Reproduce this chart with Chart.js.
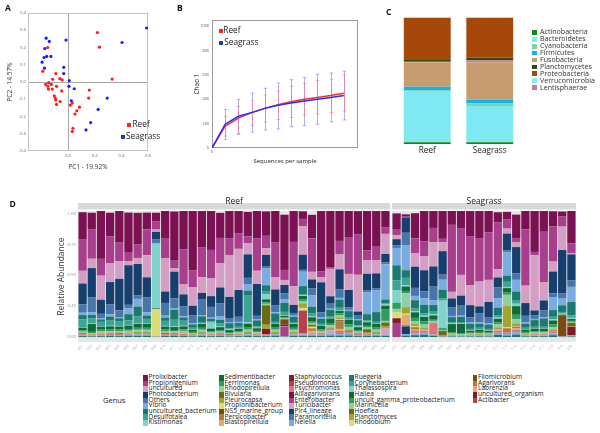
<!DOCTYPE html>
<html>
<head>
<meta charset="utf-8">
<script src="https://cdn.jsdelivr.net/npm/chart.js@4.4.1/dist/chart.umd.min.js"></script>
<style>
  body { margin: 0; width: 600px; height: 433px; overflow: hidden; background: #fff; position: relative;
         font-family: "Open Sans", sans-serif; color: #222; }
  canvas { position: absolute; }
  .t { position: absolute; white-space: nowrap; line-height: 1; }
  .sw { position: absolute; }
</style>
</head>
<body>
<script>
// ---- A: PCoA ------------------------------------------------------------
const reefPc1 = [.221,.236,.331,-.152,-.189,-.091,-.061,-.044,-.115,-.167,-.145,-.150,-.125,-.147,-.118,-.086,-.103,-.096,-.091,-.086,-.059,-.047,.160,.155,.017,.032,.086,.066,.052,.037,.032];
const reefPc2 = [.287,.202,.017,.200,.062,.049,.019,.012,.016,-.014,-.004,-.025,-.014,-.041,-.041,-.025,-.080,-.093,-.105,-.130,-.113,-.052,-.047,-.093,-.134,-.122,-.146,-.167,-.186,-.268,-.287];
const seagrassPc1 = [-.164,-.140,-.015,-.174,-.128,-.160,-.180,-.194,-.177,-.032,-.032,.010,.007,.047,.025,.294,.226,.170,.135,.405,.589];
const seagrassPc2 = [.254,.235,.243,.194,.148,.148,.142,.115,.080,.085,.049,.008,-.025,-.039,-.109,-.093,-.159,-.235,-.278,.229,.313];

// ---- B: rarefaction (Chao 1) --------------------------------------------
const depth = [0,700,1400,2100,2800,3500,4200,4900,5600,6300,7000];
const reefChao = [0,180,245,290,325,355,380,400,415,430,450];
const reefLow  = [0,98,122,182,214,234,250,270,280,290,305];
const reefHigh = [0,258,340,392,435,468,510,530,555,565,600];
const seagrassChao = [0,195,260,290,325,350,370,385,400,415,430];
const seagrassLow  = [0,70,110,130,148,156,175,185,195,215,230];
const seagrassHigh = [0,315,398,450,490,533,560,580,605,615,630];

// ---- C: phylum composition (%) ------------------------------------------
const phyla = ['Actinobacteria','Bacteroidetes','Cyanobacteria','Firmicutes','Fusobacteria','Planctomycetes','Proteobacteria','Verrucomicrobia','Lentisphaerae'];
const reefPhylum     = [1.3,40.5,0.3,2.9,19.3,1.4,33.1,0.8,0.4];
const seagrassPhylum = [1.3,28.7,1.8,3.1,29.5,2.1,31.1,0.8,1.6];
const phylumStack = ['Actinobacteria','Bacteroidetes','Cyanobacteria','Firmicutes','Fusobacteria','Lentisphaerae','Planctomycetes','Proteobacteria','Verrucomicrobia'];
const phylumColors = ['#138a13','#7fe9f2','#82d2a0','#12b2f2','#c79c6e','#2c4a12','#a6480a','#86edf5','#c47f8c'];

// ---- D: genus relative abundance (34 reef + 20 seagrass samples) --------
const reefSamples = ['R01','R02','R03','R04','R05','R06','R07','R08','R09','R10','R11','R12','R13','R14','R15','R16','R17','R18','R19','R20','R21','R22','R23','R24','R25','R26','R27','R28','R29','R30','R31','R32','R33','R34'];
const seagrassSamples = ['S01','S02','S03','S04','S05','S06','S07','S08','S09','S10','S11','S12','S13','S14','S15','S16','S17','S18','S19','S20'];
const abundanceTicks = [0, 0.25, 0.5, 0.75, 1];
const genera = ['Prolixibacter','Propionigenium','uncultured','Photobacterium','Others','Vibrio','uncultured_bacterium','Desulfotalea','Kistimonas',
  'Sedimentibacter','Ferrimonas','Rhodopirellula','Bivularia','Pleurocapsa','Propionibacterium','NS5_marine_group','Persicobacter','Blastopirellula',
  'Staphylococcus','Pseudomonas','Psychromonas','Alliagarivorans','Enterobacter','Turicibacter','Pir4_lineage','Paramoritella','Neiella',
  'Ruegeria','Corynebacterium','Thalassospira','Haliea','uncult_gamma_proteobacterium','Marinicella','Hoeflea','Planctomyces','Rhodobium',
  'Filomicrobium','Agarivorans','Labrenzia','uncultured_organism','Actibacter'];
const genusPalette = ['#7b1152','#a83f8c','#d49ec5','#163f6e','#4776aa','#79ade2','#1b7a6f','#3aa596','#7fd3ca',
  '#0e6b38','#2e9e5e','#8cd1a2','#6b6b12','#a3a334','#dcdc74','#7b4a12','#b07b43','#e2ab72','#821a2c','#b5404f','#e2717f'];

const prolixibacter = [.217,.136,.388,.190,.257,.325,.257,.136,.068,.230, .398,.312,.488,.298,.339,.203,.230,.217,.198,.225, .198,.263,.447,.257,.062,.190,.496,.504,.244,.252, .190,.328,.301,.176,
  .127,.019,.203,.244,.149,.225,.117,.144,.209,.225, .176,.081,.062,.190,.154,.339,.176,.122,.041,.271];
const propionigenium = [.257,.236,.136,.217,.149,.068,.108,.209,.068,.157, .062,.285,.136,.244,.230,.203,.136,.127,.054,.263, .100,.279,.081,.358,.060,.271,.046,.010,.108,.293, .325,.081,.108,.054,
  .049,.008,.122,.122,.114,.027,.542,.379,.396,.352, .385,.379,.073,.035,.455,.027,.407,.285,.081,.081];
const uncultured = [.103,.076,.195,.154,.144,.033,.049,.179,.019,.271, .027,.081,.149,.127,.144,.198,.339,.333,.092,.108, .054,.100,.041,.152,.230,.062,.041,.222,.122,.130, .298,.108,.108,.163,
  .033,.000,.108,.114,.198,.073,.054,.168,.163,.201, .179,.068,.041,.038,.141,.447,.149,.081,.190,.008];
const photobacterium = [.168,.238,.114,.179,.255,.320,.255,.163,.062,.092, .217,.095,.076,.049,.087,.127,.176,.217,.190,.257, .095,.130,.068,.065,.122,.073,.244,.060,.163,.141, .033,.136,.119,.068,
  .049,.122,.171,.171,.163,.190,.073,.081,.100,.054, .127,.081,.136,.211,.103,.041,.081,.176,.352,.209];
const others = [.068,.119,.035,.081,.054,.027,.027,.119,.027,.103, .081,.081,.065,.130,.087,.108,.027,.041,.054,.027, .015,.054,.049,.022,.015,.054,.041,.041,.068,.020, .027,.015,.015,.015,
  .022,.103,.065,.054,.108,.041,.068,.081,.041,.076, .046,.087,.015,.054,.054,.027,.054,.033,.041,.054];
const vibrio = [.019,.022,.010,.019,.010,.049,.062,.027,.000,.015, .010,.010,.010,.010,.010,.027,.010,.010,.049,.010, .136,.010,.027,.010,.117,.095,.010,.010,.015,.010, .010,.176,.179,.285,
  .141,.200,.035,.054,.041,.081,.010,.010,.010,.010, .010,.076,.190,.095,.010,.010,.010,.103,.054,.122];
const unculturedBacterium = [.035,.027,.020,.033,.027,.049,.081,.027,.005,.027, .081,.027,.027,.046,.020,.027,.041,.030,.041,.049, .046,.068,.073,.041,.065,.054,.041,.054,.065,.054, .041,.051,.079,.030,
  .122,.062,.068,.068,.054,.068,.041,.041,.041,.033, .035,.060,.049,.068,.033,.054,.068,.054,.054,.108];
const desulfotalea = [.062,.041,.034,.041,.035,.038,.054,.035,.000,.041, .054,.041,.010,.010,.010,.027,.010,.010,.217,.010, .027,.010,.027,.010,.010,.020,.010,.010,.020,.010, .010,.010,.010,.010,
  .081,.060,.020,.020,.020,.020,.010,.010,.010,.010, .010,.020,.041,.030,.010,.010,.010,.020,.010,.020];
const kistimonas = [.005,.005,.005,.005,.005,.005,.005,.005,.523,.005, .005,.005,.005,.005,.049,.005,.005,.005,.010,.005, .041,.005,.005,.005,.005,.010,.005,.005,.005,.005, .005,.005,.005,.010,
  .100,.010,.010,.010,.010,.225,.005,.005,.005,.005, .005,.010,.010,.020,.005,.005,.005,.010,.005,.010];
const sedimentibacter = [.021,.064,.024,.026,.024,.028,.032,.032,.005,.024, .024,.024,.018,.032,.020,.024,.015,.020,.032,.021, .024,.032,.013,.032,.029,.030,.028,.036,.020,.039, .024,.028,.032,.028,
  .000,.036,.045,.035,.029,.010,.069,.079,.015,.018, .015,.030,.036,.070,.018,.020,.020,.030,.005,.015];
const ferrimonas = [.011,.009,.012,.013,.012,.014,.016,.016,.002,.012, .012,.012,.009,.016,.010,.012,.008,.010,.016,.011, .012,.016,.006,.016,.015,.015,.014,.018,.017,.020, .012,.014,.016,.095,
  .049,.018,.025,.026,.015,.005,.008,.006,.008,.009, .008,.015,.018,.035,.009,.010,.010,.022,.002,.008];
const rhodopirellula = [.010,.009,.012,.013,.012,.014,.016,.016,.002,.012, .012,.012,.009,.016,.010,.012,.008,.010,.016,.010, .012,.016,.006,.016,.015,.015,.014,.018,.017,.020, .012,.014,.016,.014,
  .027,.113,.025,.026,.015,.005,.008,.006,.008,.009, .008,.025,.091,.035,.009,.010,.010,.022,.002,.008];
const bivularia = [0,0,0,0,0,0,0,0,0,0, 0,0,0,0,0,0,0,0,0,0, .157,0,0,0,0,.010,0,0,0,0, 0,.027,0,.027,
  0,0,0,0,0,.038,0,0,0,0, 0,0,0,0,0,0,0,0,0,.027];
const pleurocapsa = [.007,.006,.008,.009,.008,.009,.011,.011,.002,.008, .008,.008,.006,.011,.007,.008,.005,.007,.011,.007, .035,.011,.004,.011,.037,.010,.009,.012,.012,.013, .008,.009,.011,.009,
  .000,.053,.015,.017,.010,.003,.005,.004,.005,.006, .005,.017,.170,.020,.006,.007,.007,.015,.002,.005];
const propionibacterium = [0,0,0,0,0,0,0,0,.217,0, 0,0,0,0,0,0,0,0,0,0, 0,0,0,0,.022,.010,0,0,.010,0, 0,0,0,0,
  .049,.010,.010,0,0,0,0,0,0,0, 0,0,.010,.005,0,0,0,0,0,0];
const ns5MarineGroup = [0,0,0,0,0,0,0,0,0,0, 0,0,0,0,0,0,0,0,0,0, 0,0,.041,0,0,0,0,0,.010,0, 0,0,0,0,
  0,0,0,0,0,0,0,0,0,0, 0,0,0,0,0,0,0,0,.171,0];
const persicobacter = [0,0,0,0,0,0,0,0,0,0, 0,0,0,0,0,0,0,0,0,0, 0,0,0,0,0,.020,0,0,.060,.010, 0,0,0,0,
  0,0,.020,0,0,0,0,0,0,0, 0,0,.035,.015,0,0,0,0,0,0];
const blastopirellula = [0,0,.005,0,0,0,0,0,0,0, 0,.005,0,0,0,0,0,0,0,0, 0,0,0,0,0,.020,0,0,.020,0, 0,0,0,0,
  0,.081,.010,.008,0,0,0,0,0,0, 0,.010,0,.010,0,0,0,0,0,0];
const staphylococcus = [.005,0,0,0,.005,0,0,0,0,.005, 0,0,0,0,0,0,.005,0,0,0, .041,0,.014,0,0,0,0,0,0,0, 0,0,0,0,
  .038,0,.005,0,0,0,0,0,0,0, 0,0,0,0,0,0,0,0,0,.068];
const pseudomonas = [0,0,0,0,0,0,0,0,0,0, 0,0,0,0,0,0,0,0,0,0, 0,0,0,0,.184,0,0,0,.010,0, 0,0,0,0,
  0,0,0,0,0,0,0,0,0,0, 0,0,0,0,0,0,0,0,0,0];
const psychromonas = [.007,.006,.008,.009,.008,.009,.011,.011,.002,.008, .008,.008,.006,.011,.007,.008,.005,.007,.011,.007, .008,.011,.004,.011,.010,.010,.009,.012,.012,.013, .008,.009,.011,.009,
  .000,.012,.015,.017,.086,.003,.005,.004,.005,.006, .005,.017,.012,.020,.006,.007,.007,.015,.002,.005];
const enterobacter = [0,0,0,0,0,0,0,0,0,0, 0,0,0,0,0,0,0,0,0,0, 0,0,.076,0,0,0,0,0,0,0, 0,0,0,0,
  .114,0,0,0,0,0,0,0,0,0, 0,0,0,0,0,0,0,0,0,0];
const turicibacter = [0,0,0,0,0,0,0,0,0,0, 0,0,0,0,0,0,0,0,0,0, 0,0,0,0,0,0,0,.030,0,0, 0,0,0,.054,
  0,0,0,0,0,0,0,0,0,0, 0,0,0,0,0,0,0,0,0,0];
const pir4Lineage = [0,0,0,0,0,0,0,0,0,0, 0,0,0,0,0,0,0,0,0,0, 0,0,0,0,0,0,0,0,0,0, 0,0,0,0,
  0,.062,0,0,0,0,0,0,0,0, 0,0,0,0,0,0,0,0,0,0];
const neiella = [.007,.006,.008,.008,.008,.009,.011,.010,.002,.008, .008,.009,.006,.011,.007,.008,.005,.007,.011,.007, .008,.011,.004,.011,.010,.010,.009,.012,.012,.013, .008,.009,.011,.009,
  .000,.012,.015,.017,.010,.003,.005,.004,.005,.006, .005,.017,.012,.020,.006,.007,.007,.015,.002,.005];
const ruegeria = [.008,.006,.007,.009,.008,.010,.010,.011,.002,.008, .009,.008,.006,.010,.007,.008,.005,.007,.011,.008, .008,.011,.004,.010,.010,.010,.009,.012,.012,.013, .008,.009,.011,.009,
  .000,.012,.015,.017,.010,.003,.005,.004,.005,.006, .005,.017,.012,.020,.006,.007,.007,.015,.002,.005];

const genusSeries = {
  Prolixibacter: prolixibacter, Propionigenium: propionigenium, uncultured: uncultured, Photobacterium: photobacterium,
  Others: others, Vibrio: vibrio, uncultured_bacterium: unculturedBacterium, Desulfotalea: desulfotalea, Kistimonas: kistimonas,
  Sedimentibacter: sedimentibacter, Ferrimonas: ferrimonas, Rhodopirellula: rhodopirellula, Bivularia: bivularia,
  Pleurocapsa: pleurocapsa, Propionibacterium: propionibacterium, NS5_marine_group: ns5MarineGroup, Persicobacter: persicobacter,
  Blastopirellula: blastopirellula, Staphylococcus: staphylococcus, Pseudomonas: pseudomonas, Psychromonas: psychromonas,
  Enterobacter: enterobacter, Turicibacter: turicibacter, Pir4_lineage: pir4Lineage, Neiella: neiella, Ruegeria: ruegeria
};

// ---- setup --------------------------------------------------------------
Chart.defaults.font.family = '"Open Sans", sans-serif';
Chart.defaults.color = '#555';
Chart.defaults.animation = false;
Chart.defaults.responsive = false;
Chart.defaults.plugins.legend.display = false;
Chart.defaults.plugins.tooltip.enabled = false;

function mk(left, top, w, h) {
  const c = document.createElement('canvas');
  c.width = w; c.height = h;
  c.style.left = left + 'px'; c.style.top = top + 'px';
  document.body.appendChild(c);
  return c;
}
function txt(left, top, s, size, css) {
  const d = document.createElement('div');
  d.className = 't';
  d.textContent = s;
  d.style.left = left + 'px'; d.style.top = top + 'px'; d.style.fontSize = size + 'px';
  if (css) Object.assign(d.style, css);
  document.body.appendChild(d);
}
function box(left, top, w, h, color) {
  const d = document.createElement('div');
  d.className = 'sw';
  Object.assign(d.style, {left: left + 'px', top: top + 'px', width: w + 'px', height: h + 'px', background: color});
  document.body.appendChild(d);
}

// full box around the plot area
const frame = {
  id: 'frame',
  beforeDatasetsDraw(chart, args, opts) {
    const {ctx, chartArea: a} = chart;
    ctx.save();
    ctx.strokeStyle = opts.color || '#999';
    ctx.lineWidth = 1;
    ctx.strokeRect(Math.round(a.left) + 0.5, Math.round(a.top) + 0.5, Math.round(a.width) - 1, Math.round(a.height) - 1);
    ctx.restore();
  }
};

// vertical error bars from dataset.errLow / errHigh
const errorBars = {
  id: 'errorBars',
  beforeDatasetsDraw(chart) {
    const {ctx, scales: {x, y}} = chart;
    chart.data.datasets.forEach(ds => {
      ctx.save();
      ctx.strokeStyle = ds.errColor;
      ctx.lineWidth = 1;
      ds.data.forEach((p, i) => {
        const lo = ds.errLow[i], hi = ds.errHigh[i];
        if (hi <= lo) return;
        const px = Math.round(x.getPixelForValue(p.x)) + 0.5;
        const y1 = y.getPixelForValue(lo), y2 = y.getPixelForValue(hi);
        ctx.beginPath();
        ctx.moveTo(px, y1); ctx.lineTo(px, y2);
        ctx.moveTo(px - 1.8, y1); ctx.lineTo(px + 1.8, y1);
        ctx.moveTo(px - 1.8, y2); ctx.lineTo(px + 1.8, y2);
        ctx.stroke();
      });
      ctx.restore();
    });
  }
};

// grey facet panel + strip
const facet = {
  id: 'facet',
  beforeDraw(chart) {
    const {ctx, chartArea: a} = chart;
    ctx.save();
    ctx.fillStyle = '#d9d9d9';
    ctx.fillRect(a.left, a.top - 8, a.width, 6.5);
    ctx.fillStyle = '#e6e6e6';
    ctx.fillRect(a.left, a.top, a.width, a.height);
    ctx.restore();
  }
};

// ---- A ------------------------------------------------------------------
new Chart(mk(0, 0, 155, 175), {
  type: 'scatter',
  data: {
    datasets: [
      {label: 'Reef', data: reefPc1.map((v, i) => ({x: v, y: reefPc2[i]})), backgroundColor: '#ff1c1c', borderWidth: 0, pointRadius: 1.6},
      {label: 'Seagrass', data: seagrassPc1.map((v, i) => ({x: v, y: seagrassPc2[i]})), backgroundColor: '#1c1cff', borderWidth: 0, pointRadius: 1.6}
    ]
  },
  options: {
    layout: {padding: {top: 13, right: 7, left: 0, bottom: 0}},
    plugins: {frame: {color: '#c4c4c4'}},
    scales: {
      x: {
        type: 'linear', min: -0.3, max: 0.6,
        afterFit: s => { s.height = 24; },
        border: {display: false},
        grid: {drawTicks: false, color: c => (c.tick && Math.abs(c.tick.value) < 1e-9) ? '#a8a8a8' : 'rgba(0,0,0,0)'},
        ticks: {stepSize: 0.2, padding: 2, font: {size: 4.3}, color: '#666', maxRotation: 0,
                callback: v => Math.abs(v + 0.3) < 1e-9 ? '' : v.toFixed(1)},
        title: {display: true, text: 'PC1 - 19.92%', font: {size: 6.5}, color: '#333', padding: {top: 0, bottom: 4}}
      },
      y: {
        min: -0.4, max: 0.4,
        afterFit: s => { s.width = 28; },
        border: {display: false},
        grid: {drawTicks: false, color: c => (c.tick && Math.abs(c.tick.value) < 1e-9) ? '#a8a8a8' : 'rgba(0,0,0,0)'},
        ticks: {stepSize: 0.1, padding: 2, font: {size: 4.3}, color: '#666', callback: v => v.toFixed(1)},
        title: {display: true, text: 'PC2 - 14.57%', font: {size: 6.5}, color: '#333', padding: {top: 6, bottom: 0}}
      }
    }
  },
  plugins: [frame]
});

// ---- B ------------------------------------------------------------------
new Chart(mk(150, 0, 215, 175), {
  type: 'line',
  data: {
    datasets: [
      {label: 'Seagrass', data: depth.map((d, i) => ({x: d, y: seagrassChao[i]})), borderColor: '#2b2bff', borderWidth: 1.5,
       pointRadius: 0, errLow: seagrassLow, errHigh: seagrassHigh, errColor: 'rgba(110,110,255,0.55)'},
      {label: 'Reef', data: depth.map((d, i) => ({x: d, y: reefChao[i]})), borderColor: '#ff2b2b', borderWidth: 1.5,
       pointRadius: 0, errLow: reefLow, errHigh: reefHigh, errColor: 'rgba(255,110,110,0.55)'}
    ]
  },
  options: {
    layout: {padding: {top: 20, right: 7, left: 0, bottom: 0}},
    plugins: {frame: {color: '#9a9a9a'}},
    scales: {
      x: {
        type: 'linear', min: 0, max: 7750,
        afterFit: s => { s.height = 27; },
        border: {display: false}, grid: {display: false, drawTicks: false},
        ticks: {stepSize: 1000, padding: 2, font: {size: 3.8}, color: '#555', maxRotation: 0, autoSkip: false,
                callback: v => v % 1000 === 0 ? v : ''},
        title: {display: true, text: 'Sequences per sample', font: {size: 6}, color: '#222', padding: {top: 0, bottom: 10}}
      },
      y: {
        min: 0, max: 1050,
        afterFit: s => { s.width = 62; },
        border: {display: false}, grid: {display: false, drawTicks: false},
        ticks: {stepSize: 200, padding: 3, font: {size: 3.8}, color: '#555', callback: v => v % 200 === 0 ? v : ''},
        title: {display: true, text: 'Chao 1', font: {size: 6.5}, color: '#222', padding: {top: 43, bottom: 0}}
      }
    }
  },
  plugins: [errorBars, frame]
});

// ---- C ------------------------------------------------------------------
new Chart(mk(380, 0, 150, 160), {
  type: 'bar',
  data: {
    labels: ['Reef', 'Seagrass'],
    datasets: phylumStack.map(p => {
      const i = phyla.indexOf(p);
      return {label: p, data: [reefPhylum[i], seagrassPhylum[i]], backgroundColor: phylumColors[i],
              barPercentage: 0.75, categoryPercentage: 1, borderWidth: 0};
    })
  },
  options: {
    layout: {padding: {left: 16, right: 9, top: 17, bottom: 0}},
    scales: {
      x: {stacked: true, grid: {display: false, drawTicks: false}, border: {display: false}, afterFit: s => { s.height = 16; },
          ticks: {padding: 2, font: {size: 8.2}, color: '#222'}},
      y: {stacked: true, display: false, min: 0, max: 100}
    }
  }
});

// ---- D ------------------------------------------------------------------
function genusDatasets(from, to) {
  return genera.slice().reverse().filter(g => genusSeries[g]).map(g => ({
    label: g,
    data: genusSeries[g].slice(from, to),
    backgroundColor: genusPalette[genera.indexOf(g) % genusPalette.length],
    borderWidth: 0, barPercentage: 0.9, categoryPercentage: 1
  }));
}
function facetOptions(title, pad, showY) {
  return {
    layout: {padding: pad},
    plugins: {
      title: {display: true, text: title, fullSize: false, color: '#222', font: {size: 8.5, weight: 'normal'},
              padding: {top: 6, bottom: 4.8}}
    },
    scales: {
      x: {
        stacked: true, grid: {display: false, drawTicks: false}, border: {display: false},
        afterFit: s => { s.height = 18; },
        ticks: {autoSkip: false, minRotation: 45, maxRotation: 45, padding: 2, font: {size: 3.5}, color: '#aaa'}
      },
      y: {
        stacked: true, display: showY, min: -0.04, max: 1.02,
        afterFit: s => { s.width = showY ? 78 : 0; },
        afterBuildTicks: s => { s.ticks = abundanceTicks.map(v => ({value: v})); },
        grid: {display: false, drawTicks: false}, border: {display: false},
        ticks: {padding: 2, font: {size: 4.3}, color: '#888', callback: v => v.toFixed(2)},
        title: {display: showY, text: 'Relative Abundance', font: {size: 8.5}, color: '#333', padding: {top: 56, bottom: 0}}
      }
    }
  };
}
new Chart(mk(0, 190, 392, 170), {
  type: 'bar',
  data: {labels: reefSamples, datasets: genusDatasets(0, 34)},
  options: facetOptions('Reef', {top: 0, right: 2, left: 0, bottom: 0}, true),
  plugins: [facet]
});
new Chart(mk(390, 190, 200, 170), {
  type: 'bar',
  data: {labels: seagrassSamples, datasets: genusDatasets(34, 54)},
  options: facetOptions('Seagrass', {top: 0, right: 14, left: 2, bottom: 0}, false),
  plugins: [facet]
});

// ---- legends and panel tags ----------------------------------------------
const tagCss = {fontWeight: 'bold', color: '#111'};
txt(5, 3.5, 'A', 8.5, tagCss);
txt(177, 3.5, 'B', 8.5, tagCss);
txt(386, 7.5, 'C', 8.5, tagCss);
txt(9.5, 200.2, 'D', 8.5, tagCss);

// A legend
box(127.3, 122.5, 3.8, 4.2, '#ff2020');
txt(132.5, 120.2, 'Reef', 8.3);
box(121.2, 134.5, 3.8, 4.2, '#23409a');
txt(126, 132.4, 'Seagrass', 8.3);

// B legend
box(219, 28.8, 3.8, 4.2, '#ff2020');
txt(223.3, 26.4, 'Reef', 8.3);
box(219, 40.8, 3.8, 4.2, '#23409a');
txt(224.3, 38.3, 'Seagrass', 8.3);

// C legend
phyla.forEach((p, i) => {
  const cy = 32.3 + i * 6.92;
  box(531.7, cy - 2.4, 5, 4.8, phylumColors[i]);
  txt(540, cy - 3.9, p, 7.1, {color: '#333'});
});

// D legend
txt(103, 396.9, 'Genus', 7.5, {color: '#222'});
const legendCols = [143.3, 219.3, 289.3, 349.3, 472.7];
genera.forEach((g, i) => {
  const col = Math.floor(i / 9), row = i % 9;
  const top = 375 + row * 5.63;
  box(legendCols[col], top, 4.7, 5.63, genusPalette[i % genusPalette.length]);
  txt(legendCols[col] + 5.3, top + 2.8 - 3.6, g, 6.6, {color: '#222'});
});
</script>
</body>
</html>
